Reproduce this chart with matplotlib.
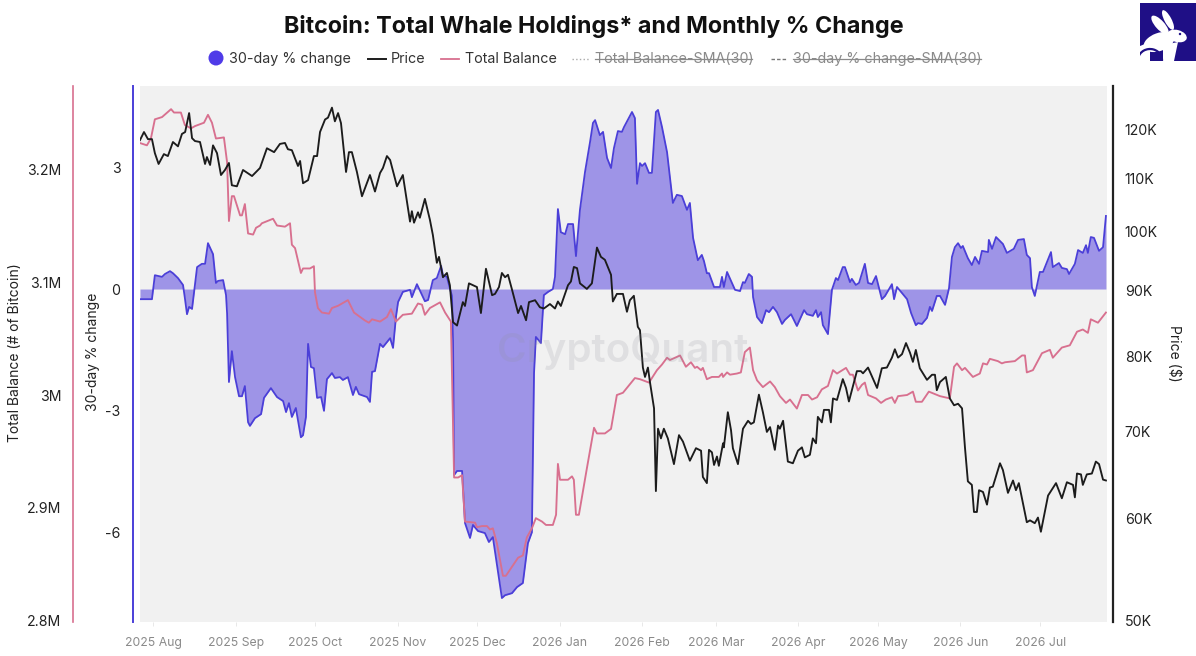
import matplotlib
matplotlib.use("Agg")
import matplotlib.pyplot as plt
import matplotlib.dates as mdates
from matplotlib.lines import Line2D
from matplotlib.patches import Ellipse, Rectangle, Circle, Arc, Polygon
from matplotlib.ticker import FuncFormatter, NullLocator
import numpy as np
from datetime import datetime, timedelta

START_DATE = datetime(2025, 7, 27)

price_days = [
 0,1.5,3,4.5,5.6,7,9,10.5,12.4,14.3,
 15.8,17,18.5,19.6,20.7,22.6,24.5,25.2,26.4,27.5,
 29,30.5,32,33.5,34.6,36.5,38.8,42.2,45.2,47.8,
 50.5,52.7,54.6,55.7,57.2,59.5,60.3,61.4,63.3,65.5,
 66.7,67.8,69.7,70.8,72.3,73.4,74.6,75.7,77.6,78.7,
 79.8,81.7,83.6,86.6,88.5,90.4,91.5,93,94.2,96.8,
 99,101.7,102.4,103.2,104.7,105.4,107.3,109.2,110.3,111.8,
 112.6,114.1,115.6,116.7,117.9,119.4,121.6,122.4,123.9,126.9,
 128.4,130.3,132.6,133.7,135.2,136.3,137.5,138.6,140.1,142.4,
 143.5,145.4,146.5,148.8,150.6,152.1,154.4,156.3,157.4,158.5,
 161.2,162.3,163.4,164.6,165.7,168.3,170.2,172.1,173.6,175.1,
 177.4,178.1,179.6,181.9,183.4,184.5,186,187.5,188.3,189.4,
 190.2,191.3,192.1,193.6,194.3,195.1,196.2,197.3,198.8,201.1,
 203,204.5,207.1,209.4,211.3,212,213.5,214.3,215.4,216.2,
 217.3,218,219.6,219.9,221.4,222.6,223.3,225.2,227.1,229,
 230.1,231.2,233.1,234.6,236.1,237.3,239.1,240.3,241,242.2,
 244,245.9,247.8,249.3,250.4,252.3,253.4,254.6,255.3,256.8,
 257.6,259.5,260.2,261,262.5,264.7,265.9,267,270,271.5,
 272.3,274.2,277.6,279.4,281.3,283.2,284.3,285.5,287,288.5,
 290,291.1,292.2,293.7,296.4,298.3,299.4,300.1,301.3,303.5,
 305,306.6,308.1,309.6,310.7,311.8,313.3,314.1,315.2,316,
 317.5,319,320.1,321.2,323.9,325,326.9,328.8,329.9,331,
 334,335.2,337,338.2,339.3,342,345,347.2,349.1,351.4,
 352.1,352.9,354.4,355.1,356.6,358.5,360,361.2,362.7,363.8]
price_values = [
 117.7,119.4,117.9,117.9,115,112.8,114.8,114.4,117.3,116.4,
 119,119.4,123.5,118.1,117.5,117.3,112.8,114.2,112.6,116.6,
 115,110.6,111.6,113,108.6,108.4,111.6,110.4,112,116,
 115.2,116.9,117.1,115.8,115.6,112.4,113.4,109,109.6,114.4,
 114.4,119.4,122.1,122.5,124.7,121.7,123.5,121.3,111.2,115.2,
 115.2,111.2,106.5,110.6,107.4,111,112,114.4,113.6,108.4,
 110.6,101.8,103.7,101.6,103.5,102.5,106,102.1,99.4,94.6,
 95.6,92.2,92.9,90.9,85.1,84.6,88.2,87.6,91.2,90.6,
 86.5,93.6,89.3,89.5,90.6,92.9,92.2,92.6,90.2,86.5,
 87.6,85.4,88.2,88.5,87.4,87.2,87.9,87.2,88.3,87.6,
 90.9,91.5,93.9,93.7,91.2,90.3,91.2,97.2,95.6,95.1,
 92.6,88.3,89.5,89.5,86.7,88.5,89.2,84.4,83.9,78.5,
 77.2,78.5,76.4,73,63,70.4,69.2,70.4,69.2,66.1,
 69.6,68.8,66.5,68,67.7,64.6,63.9,67.8,67.5,66,
 67,65.9,68.6,68.1,72.5,70.2,68,66.1,70.4,71.4,
 71,71.2,74.8,72.5,70,70.6,67.8,70.8,70.4,71.4,
 66.4,66.2,67.7,68.1,66.9,67.2,69.2,68.6,71.9,71.2,
 72.8,72.8,71.2,74.3,74.1,76.9,75.7,73.9,78,78,
 77.7,78.5,75.7,78.4,78.5,79.9,81.1,79.9,80.4,82,
 80.6,79.3,81,78.4,76.8,77.5,77.5,75.4,76.5,77.2,
 74.3,73.4,73.6,73,68.1,64.1,63.7,60.7,60.7,63.1,
 62.9,61.5,63.4,63.5,66.2,65.4,62.8,64.2,63.1,63.9,
 59.6,59.8,59.5,60.1,58.6,62.5,63.9,62.2,64,63.7,
 62.3,65,64.9,63.7,64.9,65,66.4,66.1,64.3,64.2]

balance_days = [
 0,2.6,4.1,5.6,8.3,11.7,12.8,15.4,16.9,19.2,
 20.7,24.1,25.6,27.1,28.6,31.6,32.8,33.5,34.6,35.4,
 37.7,38.4,39.5,40.7,42.6,43.7,45.2,45.9,50.1,51.6,
 54.6,56.5,57.2,58.4,60.6,61.4,64,65.5,65.9,67,
 68.5,71.2,72.3,74.6,78.3,80.6,84.7,86.2,87.4,90.4,
 93,94.5,96.4,99,102.4,104.7,106.2,107.3,109.2,113,
 114.9,117.1,118.3,119.8,121.3,122.4,126.2,126.9,128.8,130.7,
 131.8,132.9,134.4,136.7,137.8,140.1,142.4,144.2,145.7,147.6,
 149.1,151.4,152.9,155.5,156.7,157.4,158.2,161.2,162.7,163.4,
 164.2,165.3,168.3,171,172.1,175.1,177.4,179.6,181.9,186.4,
 188.3,191.7,194.7,196.6,198.5,199.6,203.4,205.6,207.5,209,
 209.8,211.3,212,213.5,215.4,218,219.2,219.6,221.1,222.2,
 224.8,226.3,227.8,229.7,230.9,232.4,234.6,237.3,239.1,241,
 243.3,244.8,247.4,249.3,251.6,253.1,255,256.8,259.1,261,
 262.5,265.9,267.4,268.5,270.4,271.9,273,274.2,277.2,279.1,
 280.9,283.2,284.3,285.5,288.9,291.1,292.2,294.5,297.1,301.3,
 305,306.6,307.7,309.6,310.7,313.7,316.3,317.5,319,320.1,
 323.1,324.6,325.8,329.5,332.2,333.3,334,336.3,339.7,342.7,
 343.8,347.2,350.2,352.9,355.1,357,358.1,360.8,363.8]
balance_values = [
 3.223,3.221,3.227,3.244,3.246,3.253,3.250,3.250,3.239,3.236,
 3.238,3.241,3.248,3.241,3.227,3.228,3.206,3.154,3.176,3.176,
 3.159,3.159,3.169,3.143,3.142,3.148,3.150,3.152,3.156,3.150,
 3.149,3.152,3.133,3.130,3.108,3.112,3.112,3.114,3.091,3.077,
 3.073,3.072,3.077,3.079,3.084,3.073,3.066,3.064,3.067,3.065,
 3.069,3.076,3.065,3.071,3.072,3.081,3.080,3.071,3.077,3.082,
 3.073,3.065,2.927,2.927,2.929,2.888,2.887,2.883,2.884,2.884,
 2.881,2.882,2.869,2.840,2.840,2.848,2.856,2.858,2.874,2.882,
 2.891,2.888,2.885,2.885,2.894,2.939,2.925,2.925,2.928,2.925,
 2.894,2.894,2.935,2.971,2.966,2.966,2.970,3.000,3.002,3.015,
 3.014,3.011,3.022,3.027,3.033,3.031,3.035,3.025,3.029,3.024,
 3.025,3.022,3.024,3.014,3.016,3.016,3.019,3.016,3.020,3.018,
 3.019,3.020,3.038,3.042,3.022,3.013,3.007,3.012,3.007,2.999,
 2.993,2.996,2.988,3.000,3.000,2.996,2.998,3.005,3.008,3.022,
 3.019,3.024,3.018,3.018,3.004,3.009,3.011,3.000,2.997,2.993,
 2.996,2.998,2.993,2.999,3.000,3.003,2.994,2.994,3.003,2.999,
 2.997,3.025,3.028,3.022,3.024,3.016,3.019,3.028,3.027,3.032,
 3.030,3.028,3.029,3.030,3.035,3.035,3.020,3.022,3.037,3.040,
 3.033,3.042,3.044,3.056,3.058,3.055,3.067,3.064,3.073]

change_days = [
 0,3,4.5,5.6,7,8.3,9.4,11.3,12.4,14.3,
 16.2,16.9,17.7,18.5,19.6,21.5,23.3,24.5,25.6,27.5,
 28.6,29.4,31.3,32.4,32.8,33.5,34.6,35.8,37.3,38.4,
 39.5,40.7,41.4,43.3,45.6,46.7,49.3,51.6,53.9,55,
 56.1,57.2,58.7,60.6,61.4,62.5,63.3,64.4,65.5,66.7,
 68.2,69.3,70.4,72.3,73.4,75.3,76.4,78.3,80.2,81.3,
 82.5,85.5,86.6,87.4,88.5,90.4,91.5,94.2,95.3,96.4,
 97.2,99,101.7,102.4,104.3,107.3,108.5,110.3,111.8,113.4,
 114.1,115.6,116.7,117.5,117.9,118.3,119.4,121.3,122.4,124.3,
 125.4,127.3,129.9,131.4,132.9,136.3,137.5,140.1,142,144.2,
 146.1,147.6,148.4,149.1,151,152.1,153.7,155.5,156.3,157.4,
 158.5,160.1,161.2,163.1,164.2,165.7,167.6,169.5,170.6,171.4,
 173.2,174.4,175.9,177.4,178.5,180,181.5,182.3,185.3,186.4,
 187.2,188.3,189.1,190.2,191.7,192.8,194.3,195.1,196.6,198.5,
 200.7,202.2,204.1,206,207.1,208.3,210.1,211.6,212.4,213.5,
 214.3,216.2,218.4,219.2,219.9,221.1,224.1,226,227.1,227.8,
 229.3,230.5,230.9,232.4,234.2,235.8,236.9,238.4,239.9,241.8,
 242.9,245.2,247.4,250.1,251.2,253.4,254.6,255.3,256.5,257.2,
 259.1,260.6,262.1,262.9,264.7,265.5,267.4,268.1,269.6,270.8,
 273,274.2,275.7,277.2,279.4,280.6,283.2,284,285.1,288.9,
 290.4,292.2,293,294.5,296.4,297.5,298.3,300.1,301.3,303.2,
 304.7,305.8,306.9,308.1,309.2,309.9,311.8,313.3,314.5,316,
 317.1,319.4,319.7,320.9,322.4,325,326.5,329.1,330.7,332.9,
 334,335.2,335.9,337,338.9,340.1,343.1,343.8,346.1,347.2,
 349.1,349.9,352.1,353.3,355.1,356.3,357,358.1,359.3,361.2,
 362.7,363.8]
change_values = [
 -0.25,-0.25,-0.25,0.34,0.32,0.30,0.37,0.44,0.39,0.27,
 0.10,-0.22,-0.62,-0.44,-0.49,0.54,0.62,0.62,1.13,0.86,
 0.15,0.2,0.22,-0.15,-0.6,-2.29,-1.53,-2.17,-2.64,-2.64,
 -2.39,-3.28,-3.37,-3.18,-3.08,-2.68,-2.44,-2.66,-2.76,-3.03,
 -2.81,-3.15,-2.93,-3.65,-3.6,-3.15,-1.35,-1.92,-1.95,-2.68,
 -2.66,-3.0,-2.22,-2.07,-2.19,-2.17,-2.24,-2.17,-2.61,-2.41,
 -2.59,-2.66,-2.78,-2.04,-2.02,-1.35,-1.43,-1.21,-1.45,-0.69,
 -0.32,-0.07,-0.02,-0.2,0.12,-0.3,-0.27,0.22,0.27,0.57,
 0.34,0.3,0.02,-0.17,-1.26,-4.58,-4.48,-4.48,-5.76,-6.13,
 -5.81,-5.96,-6.01,-6.23,-6.11,-7.61,-7.54,-7.49,-7.34,-7.24,
 -6.26,-5.99,-2.07,-1.18,-1.33,-0.15,-0.07,0,0.3,1.97,
 1.4,1.35,1.6,1.6,0.81,1.95,2.88,3.62,4.09,4.16,
 3.79,3.87,3.23,2.98,3.47,3.89,3.87,3.99,4.36,4.21,
 2.59,3.1,3.03,3.1,2.86,2.86,4.36,4.41,3.99,3.37,
 2.12,2.32,2.29,1.95,2.12,1.26,0.71,0.84,0.69,0.39,
 0.39,0.05,0.05,0.3,0.05,0.42,-0.02,-0.05,0.17,0.15,
 0.37,0.3,-0.2,-0.69,-0.84,-0.52,-0.57,-0.44,-0.57,-0.86,
 -0.76,-0.62,-0.91,-0.52,-0.62,-0.66,-0.52,-0.69,-0.57,-0.89,
 -1.11,-0.02,0.27,0.22,0.54,0.54,0.17,0.25,0.1,0.15,
 0.62,0.15,0.12,0.32,-0.25,-0.17,0.12,-0.25,0.05,-0.25,
 -0.59,-0.89,-0.84,-0.86,-0.71,-0.44,-0.54,-0.17,-0.17,-0.39,
 0.02,0.79,1.03,1.13,1.01,1.06,0.76,0.59,0.79,0.62,
 0.94,0.91,1.21,0.99,1.28,1.11,0.89,0.99,1.21,1.23,
 0.84,0.76,0.05,-0.17,0.42,0.42,0.91,0.54,0.64,0.52,
 0.49,0.37,0.62,0.96,0.89,1.08,0.89,1.28,1.26,0.94,
 1.03,1.8]

change_ticks = [-6, -3, 0, 3]
balance_ticks = [2.8, 2.9, 3.0, 3.1, 3.2]
balance_labels = ["2.8M", "2.9M", "3M", "3.1M", "3.2M"]
price_ticks = [50, 60, 70, 80, 90, 100, 110, 120]
month_ticks = [datetime(2025, m, 1) for m in range(8, 13)] + [datetime(2026, m, 1) for m in range(1, 8)]

BLUE, PINK, BLACK = "#4b3fd8", "#d8708f", "#1c1c1c"
W, H = 1196, 656
plt.rcParams["font.family"] = ["Inter", "DejaVu Sans"]

def dates(days):
    return [START_DATE + timedelta(days=float(d)) for d in days]

fig = plt.figure(figsize=(W / 100, H / 100), dpi=100, facecolor="white")
L, R, T, B = 140, 1107, 86, 622
ax = fig.add_axes([L / W, 1 - B / H, (R - L) / W, (B - T) / H])
ax.set_facecolor("#f1f1f1")
ax_bal = ax.twinx()
ax_price = ax.twinx()
for a in (ax_bal, ax_price):
    a.patch.set_visible(False)

d_c = dates(change_days)
ax.fill_between(d_c, change_values, 0, color="#5a49e0", alpha=0.55, lw=0, zorder=2)
ax.plot(d_c, change_values, color=BLUE, lw=1.3, zorder=3)
ax_bal.plot(dates(balance_days), balance_values, color=PINK, lw=1.35)
ax_price.plot(dates(price_days), price_values, color=BLACK, lw=1.35)
ax_price.set_yscale("log")

ax.set_xlim(START_DATE, START_DATE + timedelta(days=364.2))
ax.set_ylim(-8.2, 5.0)
ax_bal.set_ylim(2.7991, 3.2735)
ax_price.set_ylim(49.9, 129.6)

for a in (ax, ax_bal, ax_price):
    for s in a.spines.values():
        s.set_visible(False)

ax.spines["left"].set_visible(True)
ax.spines["left"].set_position(("outward", 7 * 0.72))
ax.spines["left"].set_color(BLUE)
ax.spines["left"].set_linewidth(1.4)
ax.set_yticks(change_ticks)
ax.set_yticklabels([str(v) for v in change_ticks])
ax.tick_params(axis="y", length=0, pad=9, labelsize=10.2, labelcolor="#222222")

ax_bal.yaxis.set_ticks_position("left")
ax_bal.yaxis.set_label_position("left")
ax_bal.spines["left"].set_visible(True)
ax_bal.spines["left"].set_position(("outward", 67 * 0.72))
ax_bal.spines["left"].set_color(PINK)
ax_bal.spines["left"].set_linewidth(1.2)
ax_bal.set_yticks(balance_ticks)
ax_bal.set_yticklabels(balance_labels)
ax_bal.tick_params(axis="y", length=0, pad=8.5, labelsize=10.2, labelcolor="#222222")

ax_price.spines["right"].set_visible(True)
ax_price.spines["right"].set_position(("outward", 6 * 0.72))
ax_price.spines["right"].set_color("#222222")
ax_price.spines["right"].set_linewidth(1.6)
ax_price.yaxis.set_major_locator(plt.FixedLocator(price_ticks))
ax_price.yaxis.set_minor_locator(NullLocator())
ax_price.yaxis.set_major_formatter(FuncFormatter(lambda v, p: f"{v:.0f}K"))
ax_price.tick_params(axis="y", length=0, pad=8.5, labelsize=10.2, labelcolor="#222222")

ax.set_xticks(month_ticks)
ax.xaxis.set_major_formatter(mdates.DateFormatter("%Y %b"))
ax.tick_params(axis="x", length=3, width=0.6, color="#e4e4e4", pad=8, labelsize=8.8, labelcolor="#8a8a8a")

def ftext(x, y, s, **kw):
    kw.setdefault("ha", "left")
    kw.setdefault("va", "center")
    return fig.text(x / W, 1 - y / H, s, **kw)

ftext(15, 353, "Total Balance (# of Bitcoin)", rotation=90, ha="center", fontsize=10, color="#222222")
ftext(93, 352, "30-day % change", rotation=90, ha="center", fontsize=10, color="#222222")
ftext(1174, 353, "Price ($)", rotation=270, ha="center", fontsize=10, color="#222222")

ftext(623, 352, "CryptoQuant", ha="center", fontsize=29, fontweight="semibold", color="#8f8f9a", alpha=0.18, zorder=10)

ftext(594, 26, "Bitcoin: Total Whale Holdings* and Monthly % Change", ha="center",
      fontsize=16.8, fontweight="bold", color="#111111")

def hline(x0, x1, y, **kw):
    fig.add_artist(Line2D([x0 / W, x1 / W], [1 - y / H, 1 - y / H], transform=fig.transFigure, **kw))

LEG = 59
LFS = 10.3
fig.add_artist(Ellipse((216 / W, 1 - 58 / H), 15 / W, 15 / H, transform=fig.transFigure, color="#4f3be8", lw=0))
ftext(229, LEG, "30-day % change", fontsize=LFS, color="#333333")
hline(368, 386, LEG, color=BLACK, lw=1.4)
ftext(391, LEG, "Price", fontsize=LFS, color="#333333")
hline(441, 459, LEG, color=PINK, lw=1.3)
ftext(465, LEG, "Total Balance", fontsize=LFS, color="#333333")
hline(572, 590, LEG, color="#aaaaaa", lw=1.0, ls=":")
ftext(595, LEG, "Total Balance-SMA(30)", fontsize=LFS, color="#8a8a8a")
hline(595, 752, LEG, color="#8a8a8a", lw=0.9)
hline(771, 787, LEG, color="#777777", lw=1.0, ls=(0, (2.5, 1.5)))
ftext(793, LEG, "30-day % change-SMA(30)", fontsize=LFS, color="#8a8a8a")
hline(793, 981, LEG, color="#8a8a8a", lw=0.9)

NAVY = "#1f0f86"
lg = fig.add_axes([1140 / W, 1 - 61 / H, 56 / W, 58 / H])
lg.set_xlim(1140, 1196); lg.set_ylim(61, 3); lg.axis("off")
lg.add_patch(Rectangle((1140, 3), 56, 58, color=NAVY, lw=0))
lg.add_patch(Polygon([(1140, 46), (1150, 42), (1150, 61), (1140, 61)], color="white", lw=0))
lg.add_patch(Ellipse((1160, 25), 9, 24, angle=-42, color="white", lw=0))
lg.add_patch(Ellipse((1168, 20), 7, 22, angle=-28, color="white", lw=0))
lg.add_patch(Ellipse((1177, 36), 20, 12, angle=15, color="white", lw=0))
lg.add_patch(Ellipse((1159, 42), 32, 18, angle=-20, color="white", lw=0))
lg.add_patch(Polygon([(1163, 45), (1178, 42), (1174, 61), (1163, 61)], color="white", lw=0))
lg.add_patch(Circle((1180, 34), 1.2, color=NAVY, lw=0))
lg.add_patch(Arc((1150, 60), 24, 22, theta1=190, theta2=20, color=NAVY, lw=1.6))

fig.savefig("out.png", dpi=100, facecolor="white")
